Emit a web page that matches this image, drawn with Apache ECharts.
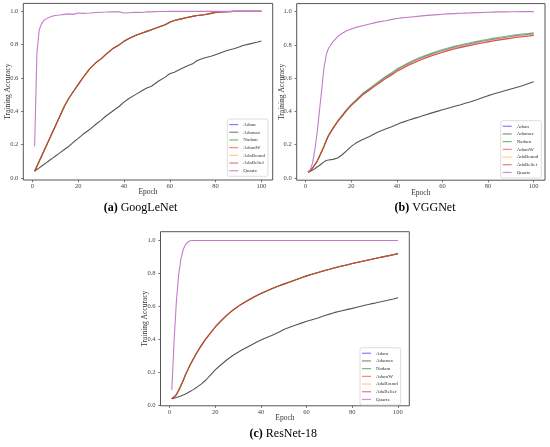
<!DOCTYPE html>
<html><head><meta charset="utf-8">
<script src="https://cdn.jsdelivr.net/npm/echarts@6/dist/echarts.min.js"></script>
<style>html,body{margin:0;padding:0;background:#fff}#c{width:550px;height:447px}</style>
</head><body><div id="c"></div>
<script>
const epochs = [1,2,3,4,5,6,7,8,9,10,12,14,16,18,20,22,25,28,30,32,35,38,40,42,45,48,50,52,55,58,60,62,65,68,70,72,75,78,80,82,85,88,90,92,95,98,100];
const seriesNames = ['Adam','Adamax','Nadam','AdamW','AdaBound','AdaBelief','Quartz'];
const xTicks = [0,20,40,60,80,100];
const yTicks = [0,0.2,0.4,0.6,0.8,1.0];
const captions = ['(a)|GoogLeNet','(b)|VGGNet','(c)|ResNet-18'];

// GoogLeNet
const gAdamGroup = [0.04,0.07,0.10,0.13,0.16,0.19,0.22,0.25,0.28,0.31,0.37,0.43,0.48,0.52,0.56,0.60,0.655,0.695,0.715,0.74,0.775,0.80,0.82,0.835,0.855,0.87,0.88,0.89,0.905,0.92,0.935,0.945,0.955,0.965,0.97,0.975,0.98,0.988,0.993,0.996,0.998,1.0,1.0,1.0,1.0,1.0,1.0];
const gAdamax = [0.04,0.05,0.06,0.07,0.08,0.09,0.10,0.11,0.12,0.13,0.15,0.17,0.19,0.215,0.237,0.26,0.29,0.325,0.345,0.37,0.40,0.43,0.455,0.475,0.50,0.525,0.54,0.55,0.58,0.605,0.625,0.635,0.655,0.675,0.685,0.705,0.72,0.73,0.74,0.75,0.765,0.775,0.785,0.795,0.805,0.815,0.822];
const gQuartz = [0.19,0.75,0.89,0.925,0.945,0.955,0.962,0.968,0.972,0.975,0.978,0.982,0.985,0.982,0.99,0.988,0.99,0.993,0.995,0.996,0.998,0.997,0.99,0.992,0.995,0.993,0.998,0.997,0.999,0.999,1.0,1.0,1.0,1.0,1.0,1.0,1.0,1.0,1.0,1.0,1.0,1.0,1.0,1.0,1.0,1.0,1.0];

// VGGNet
const vAdam = [0.035,0.045,0.06,0.08,0.10,0.13,0.16,0.19,0.225,0.255,0.30,0.34,0.375,0.41,0.44,0.465,0.505,0.535,0.555,0.575,0.605,0.63,0.65,0.664,0.687,0.706,0.718,0.728,0.743,0.757,0.766,0.774,0.785,0.795,0.801,0.807,0.815,0.823,0.828,0.833,0.84,0.846,0.85,0.854,0.859,0.863,0.866];
const vNadam = [0.035,0.045,0.06,0.08,0.10,0.13,0.16,0.19,0.226,0.257,0.302,0.343,0.378,0.413,0.443,0.469,0.509,0.539,0.56,0.58,0.61,0.636,0.656,0.67,0.693,0.712,0.724,0.734,0.749,0.763,0.772,0.78,0.791,0.801,0.807,0.813,0.821,0.829,0.834,0.839,0.846,0.852,0.856,0.86,0.865,0.869,0.872];
const vAdamW = [0.035,0.045,0.06,0.08,0.10,0.13,0.16,0.19,0.224,0.254,0.298,0.338,0.372,0.406,0.436,0.461,0.5,0.529,0.549,0.568,0.597,0.622,0.641,0.655,0.677,0.696,0.708,0.718,0.733,0.747,0.756,0.764,0.775,0.785,0.791,0.797,0.805,0.813,0.818,0.823,0.83,0.836,0.84,0.844,0.849,0.853,0.856];
const vAdaBound = [0.035,0.045,0.06,0.08,0.10,0.13,0.16,0.19,0.225,0.255,0.30,0.34,0.374,0.409,0.439,0.464,0.504,0.533,0.553,0.573,0.602,0.627,0.647,0.661,0.684,0.703,0.715,0.725,0.74,0.754,0.763,0.771,0.782,0.792,0.798,0.804,0.812,0.82,0.825,0.83,0.837,0.843,0.847,0.851,0.856,0.86,0.863];
const vAdamax = [0.035,0.04,0.048,0.056,0.066,0.075,0.086,0.097,0.105,0.108,0.112,0.12,0.14,0.165,0.19,0.21,0.232,0.25,0.265,0.278,0.295,0.31,0.322,0.333,0.347,0.36,0.368,0.377,0.39,0.402,0.41,0.418,0.43,0.44,0.449,0.457,0.47,0.485,0.495,0.503,0.515,0.527,0.535,0.543,0.555,0.569,0.578];
const vQuartz = [0.035,0.05,0.09,0.17,0.27,0.40,0.53,0.66,0.74,0.78,0.82,0.85,0.87,0.885,0.895,0.905,0.915,0.925,0.932,0.938,0.945,0.953,0.958,0.962,0.966,0.97,0.973,0.976,0.979,0.982,0.984,0.986,0.988,0.99,0.991,0.992,0.994,0.995,0.996,0.997,0.998,0.998,0.999,0.999,1.0,1.0,1.0];

// ResNet-18
const rAdamGroup = [0.04,0.05,0.065,0.09,0.12,0.15,0.185,0.215,0.245,0.27,0.32,0.365,0.405,0.44,0.475,0.505,0.545,0.58,0.60,0.618,0.642,0.665,0.678,0.69,0.708,0.725,0.735,0.745,0.76,0.775,0.785,0.793,0.805,0.818,0.825,0.833,0.843,0.853,0.86,0.866,0.875,0.884,0.89,0.896,0.905,0.913,0.92];
const rAdamax = [0.04,0.043,0.047,0.052,0.057,0.063,0.069,0.076,0.084,0.092,0.11,0.13,0.155,0.185,0.215,0.24,0.275,0.305,0.322,0.338,0.36,0.382,0.396,0.408,0.425,0.445,0.46,0.47,0.485,0.50,0.51,0.518,0.53,0.545,0.553,0.562,0.572,0.582,0.588,0.595,0.605,0.615,0.62,0.627,0.636,0.645,0.652];
const rQuartz = [0.093,0.39,0.63,0.79,0.89,0.945,0.975,0.99,0.998,1.0,1.0,1.0,1.0,1.0,1.0,1.0,1.0,1.0,1.0,1.0,1.0,1.0,1.0,1.0,1.0,1.0,1.0,1.0,1.0,1.0,1.0,1.0,1.0,1.0,1.0,1.0,1.0,1.0,1.0,1.0,1.0,1.0,1.0,1.0,1.0,1.0,1.0];

const panels = [
  {Adam:gAdamGroup, Adamax:gAdamax, Nadam:gAdamGroup, AdamW:gAdamGroup, AdaBound:gAdamGroup, AdaBelief:gAdamGroup, Quartz:gQuartz},
  {Adam:vAdam, Adamax:vAdamax, Nadam:vNadam, AdamW:vAdamW, AdaBound:vAdaBound, AdaBelief:vAdamW, Quartz:vQuartz},
  {Adam:rAdamGroup, Adamax:rAdamax, Nadam:rAdamGroup, AdamW:rAdamGroup, AdaBound:rAdamGroup, AdaBelief:rAdamGroup, Quartz:rQuartz}
];

const lineColors = {Adam:'#0000ff',Adamax:'#555555',Nadam:'#008000',AdamW:'#ff0000',AdaBound:'#ffa500',AdaBelief:'#a52a2a',Quartz:'#c57bcb'};
const lineOpacity = {Adam:0.5,Adamax:1,Nadam:0.5,AdamW:0.5,AdaBound:0.5,AdaBelief:0.5,Quartz:1};
const legendColors = {Adam:'#8080ff',Adamax:'#8a8a8a',Nadam:'#70bb70',AdamW:'#ff8080',AdaBound:'#ffd080',AdaBelief:'#d88080',Quartz:'#cc90d8'};

const FONT = 'Liberation Serif';
const grids = [
  {left:23.3, top:3.4, width:249.4, height:176.6},
  {left:296.7, top:3.6, width:248.3, height:176.6},
  {left:160.5, top:231.7, width:248.8, height:174.1}
];
const yRanges = [[-0.013,1.048],[-0.013,1.048],[-0.003,1.053]];
const legendPos = [{left:227.3, top:119},{left:500.7, top:120.7},{left:360, top:347.7}];
const captionPos = [[140.5,207.5],[425,207.5],[283.3,434]];

const xAxes = [], yAxes = [], series = [], legends = [], graphics = [];
grids.forEach((g,i)=>{
  xAxes.push({type:'value', gridIndex:i, min:-3.95, max:104.95, name:'Epoch', nameLocation:'middle', nameGap:8.5, nameMoveOverlap:false,
    nameTextStyle:{fontFamily:FONT, fontSize:7.5, color:'#333'},
    axisLine:{show:false, onZero:false}, splitLine:{show:false},
    axisTick:{show:true, length:2.2, customValues:xTicks, lineStyle:{color:'#555', width:0.8}},
    axisLabel:{customValues:xTicks, margin:3, fontFamily:FONT, fontSize:6.5, color:'#444'}});
  yAxes.push({type:'value', gridIndex:i, min:yRanges[i][0], max:yRanges[i][1], name:'Training Accuracy', nameLocation:'middle', nameGap:11, nameMoveOverlap:false,
    nameTextStyle:{fontFamily:FONT, fontSize:7.5, color:'#333'},
    axisLine:{show:false, onZero:false}, splitLine:{show:false},
    axisTick:{show:true, length:2.2, customValues:yTicks, lineStyle:{color:'#555', width:0.8}},
    axisLabel:{customValues:yTicks, margin:5, fontFamily:FONT, fontSize:6.5, color:'#444', formatter:v=>v.toFixed(1)}});
  seriesNames.forEach(n=>{
    series.push({type:'line', name:n, xAxisIndex:i, yAxisIndex:i, showSymbol:false, symbol:'none', animation:false,
      data: epochs.map((e,k)=>[e, panels[i][n][k]]),
      lineStyle:{color:lineColors[n], width:1.1, opacity:lineOpacity[n]},
      itemStyle:{color:lineColors[n]}, z: n==='Quartz'?5:3});
  });
  legends.push({orient:'vertical', left:legendPos[i].left, top:legendPos[i].top, padding:[2.5,3,2.5,2], itemGap:1.6,
    itemWidth:9, itemHeight:1.2, icon:'rect', selectedMode:false,
    borderColor:'#cfcfcf', borderWidth:0.7, borderRadius:2, backgroundColor:'rgba(255,255,255,0.85)',
    textStyle:{fontFamily:FONT, fontSize:5, color:'#333', lineHeight:6.1, padding:[0,0,0,0]},
    data: seriesNames.map(n=>({name:n, itemStyle:{color:legendColors[n]}}))});
  const parts = captions[i].split('|');
  graphics.push({type:'text', x:captionPos[i][0], y:captionPos[i][1],
    style:{text:'{b|'+parts[0]+'} '+parts[1], rich:{b:{fontWeight:'bold', fontFamily:FONT, fontSize:12, fill:'#000'}},
      fontFamily:FONT, fontSize:12, fill:'#000', align:'center', verticalAlign:'middle', textAlign:'center', textVerticalAlign:'middle'}});
});

const chart = echarts.init(document.getElementById('c'), null, {renderer:'canvas'});
chart.setOption({
  animation:false,
  grid: grids.map(g=>Object.assign({show:true, borderColor:'#555', borderWidth:1, backgroundColor:'#fff'}, g)),
  xAxis:xAxes, yAxis:yAxes, series:series, legend:legends, graphic:graphics
});
</script></body></html>
